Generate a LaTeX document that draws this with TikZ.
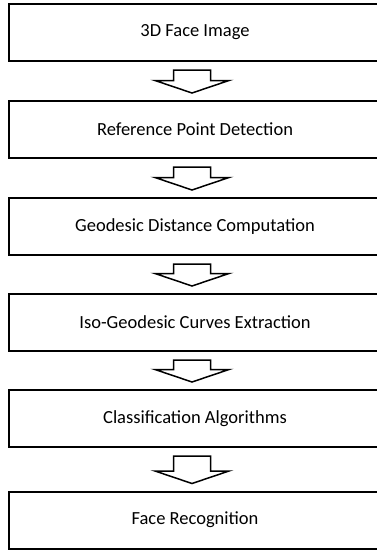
\documentclass[tikz,border=0pt]{standalone}
\usepackage{fontspec}
\setmainfont{Carlito}
\usetikzlibrary{calc}
\begin{document}
\begin{tikzpicture}[x=1pt,y=-1pt,
  box/.style={draw, line width=2pt, minimum width=372pt, minimum height=57pt, inner sep=0pt, font=\fontsize{18.5}{21}\selectfont},
  blockarrow/.style={draw, line width=1.5pt, fill=white, line join=miter}]
\useasboundingbox (0,0) rectangle (376,551);
\node[box] (b1) at (195,32.5) {3D Face Image};
\node[box] (b2) at (195,129.5) {Reference Point Detection};
\node[box] (b3) at (195,226.5) {Geodesic Distance Computation};
\node[box] (b4) at (195,322.5) {Iso-Geodesic Curves Extraction};
\node[box] (b5) at (195,418.5) {Classification Algorithms};
\node[box] (b6) at (195,520) {Face Recognition};
\foreach \a/\b in {b1/b2,b2/b3,b3/b4,b4/b5,b5/b6}{
  \path ($(\a.south)+(-3,0)$) coordinate (s) ($(\b.north)+(-3,-7)$) coordinate (t);
  \draw[blockarrow] ($(s)+(-18.5,8)$) -- ($(s)+(18.5,8)$) -- ($(t)+(18.5,-12.5)$) -- ($(t)+(37,-12.5)$) -- (t) -- ($(t)+(-37,-12.5)$) -- ($(t)+(-18.5,-12.5)$) -- cycle;
}
\end{tikzpicture}
\end{document}
